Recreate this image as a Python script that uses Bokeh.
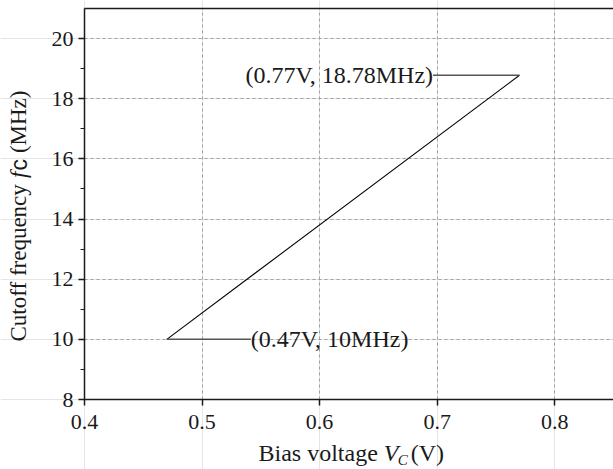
import math
from bokeh.plotting import figure
from bokeh.models import (Range1d, SingleIntervalTicker, FixedTicker, Label, LinearAxis, Grid)
from bokeh.embed import file_html
from bokeh.resources import INLINE

# ---- data ----
bias_v = [0.47, 0.77]          # V
cutoff_mhz = [10.0, 18.78]     # MHz
point_labels = ["(0.47V, 10MHz)", "(0.77V, 18.78MHz)"]
x_ticks = [0.4, 0.5, 0.6, 0.7, 0.8]
y_ticks = [8, 10, 12, 14, 16, 18, 20]

W, H = 613, 469
FL, FT, FB = 84, 8, 399          # data-area left / top / bottom pixels
X0, X1 = 0.4, 0.85
Y0, Y1 = 8, 21
KX = (X1 - X0) / (W - FL)
KY = (Y1 - Y0) / (FB - FT)

def xd(px):
    return X0 + (px - FL) * KX

def yd(py):
    return Y0 + (FB - py) * KY

SERIF = "Liberation Serif"
INK = "#1a1a1a"

p = figure(width=W, height=H, output_backend="svg", toolbar_location=None,
           x_range=Range1d(xd(0), xd(W)), y_range=Range1d(yd(H), yd(0)),
           x_axis_location=None, y_axis_location=None,
           min_border=0)
p.outline_line_color = None
p.background_fill_color = "white"
p.border_fill_color = "white"

def style_axis(ax):
    ax.axis_line_color = INK
    ax.axis_line_width = 1.5
    ax.major_tick_line_color = INK
    ax.major_tick_line_width = 1.5
    ax.major_tick_out = 6
    ax.major_tick_in = 0
    ax.minor_tick_line_color = INK
    ax.minor_tick_line_width = 1.2
    ax.minor_tick_out = 4
    ax.minor_tick_in = 0
    ax.major_label_text_font = SERIF
    ax.major_label_text_font_size = "22px"
    ax.major_label_text_color = INK

xt = SingleIntervalTicker(interval=0.1, num_minor_ticks=0)
yt = SingleIntervalTicker(interval=2, num_minor_ticks=2)

xax = LinearAxis(fixed_location=Y0, bounds=(X0, X1), ticker=xt)
style_axis(xax)
xax.minor_tick_line_color = None
xax.major_label_standoff = 9
xax.major_label_overrides = {t: f"{t:.1f}" for t in x_ticks}
p.add_layout(xax, "below")

yax = LinearAxis(fixed_location=X0, bounds=(Y0, Y1 - 0.01), ticker=yt)
style_axis(yax)
yax.major_label_standoff = 5
yax.major_label_overrides = {t: str(t) for t in y_ticks}
p.add_layout(yax, "left")

# top border of the box
tax = LinearAxis(fixed_location=Y1, bounds=(X0, X1), ticker=FixedTicker(ticks=[]),
                 major_tick_line_color=None, minor_tick_line_color=None,
                 axis_line_color=INK, axis_line_width=1.5)
p.add_layout(tax, "above")

# grid
for dim, tk, b, cb in ((0, xt, (X0, X1), (Y0, Y1)), (1, yt, (Y0, Y1), (X0, X1))):
    g = Grid(dimension=dim, ticker=tk, bounds=b, cross_bounds=cb,
             grid_line_color="#a0a0a0", grid_line_dash="3 3", grid_line_width=1)
    p.add_layout(g)

# main line
p.line(bias_v, cutoff_mhz, line_color="black", line_width=1.1)

# leader lines and labels
gap_lo = 0.0715
gap_hi = 0.0735
p.line([bias_v[0], bias_v[0] + gap_lo], [cutoff_mhz[0]] * 2, line_color="#555555", line_width=1.5)
p.line([bias_v[1] - gap_hi, bias_v[1]], [cutoff_mhz[1]] * 2, line_color="#555555", line_width=1.5)
p.add_layout(Label(x=bias_v[0] + gap_lo, y=cutoff_mhz[0], text=point_labels[0],
                   text_font=SERIF, text_font_size="24px", text_color=INK,
                   text_align="left", text_baseline="middle"))
p.add_layout(Label(x=bias_v[1] - gap_hi, y=cutoff_mhz[1], text=point_labels[1],
                   text_font=SERIF, text_font_size="24px", text_color=INK,
                   text_align="right", text_baseline="middle"))

# x axis title pieces
fs = 24
x0 = 258
mid = 452
xpieces = [
    ("Bias voltage", x0, "normal", fs, 0),
    ("V", x0 + 5.22 * fs, "italic", fs, 0),
    ("C", x0 + 5.22 * fs + 0.58 * fs, "italic", 15, 7),
    ("(V)", x0 + 5.22 * fs + 0.58 * fs + 13, "normal", fs, 0),
]
for txt, px, style, size, dy in xpieces:
    p.add_layout(Label(x=xd(px), y=yd(mid + dy), text=txt, text_font=SERIF,
                       text_font_style=style, text_font_size=f"{size}px",
                       text_color=INK, text_align="left", text_baseline="middle"))

# y axis title pieces (rotated)
fy = 23
bx = 18
start = 341
ypieces = [
    ("Cutoff frequency", 0, SERIF, "normal"),
    ("f", 7.11 * fy, SERIF, "italic"),
    ("c", 7.43 * fy, "Liberation Sans", "normal"),
    ("(MHz)", 7.93 * fy + 6, SERIF, "normal"),
]
for txt, off, font, style in ypieces:
    p.add_layout(Label(x=xd(bx), y=yd(start - off), text=txt, text_font=font,
                       text_font_style=style, text_font_size=f"{fy}px", angle=math.pi / 2,
                       text_color=INK, text_align="left", text_baseline="middle"))

open("out.html", "w").write(file_html(p, INLINE))
